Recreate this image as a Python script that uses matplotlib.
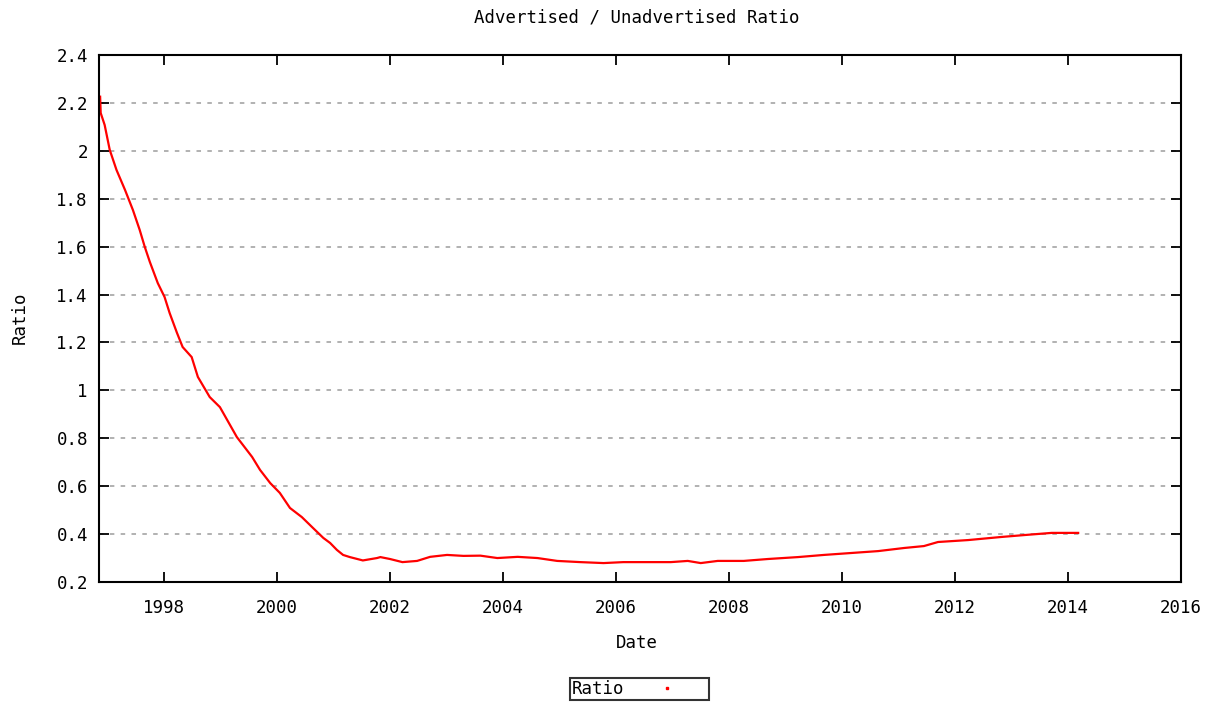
import matplotlib
matplotlib.use("Agg")
import matplotlib.pyplot as plt
from matplotlib.lines import Line2D

# Data (decimal year, ratio)
years = [1996.87, 1996.88, 1996.95, 1997.04, 1997.16, 1997.31, 1997.45, 1997.57,
         1997.66, 1997.75, 1997.89, 1998.01, 1998.10, 1998.23, 1998.33, 1998.49,
         1998.60, 1998.81, 1998.99, 1999.29, 1999.56, 1999.70, 1999.88, 2000.05,
         2000.23, 2000.44, 2000.64, 2000.82, 2000.94, 2001.06, 2001.17, 2001.29,
         2001.52, 2001.77, 2001.83, 2002.00, 2002.22, 2002.48, 2002.71, 2003.01,
         2003.30, 2003.60, 2003.90, 2004.26, 2004.61, 2004.96, 2005.37, 2005.78,
         2006.13, 2006.56, 2006.97, 2007.27, 2007.50, 2007.80, 2008.26, 2008.69,
         2009.22, 2009.68, 2010.16, 2010.64, 2011.10, 2011.45, 2011.70, 2012.23,
         2012.82, 2013.23, 2013.71, 2014.18]
ratio = [2.226, 2.158, 2.108, 2.004, 1.920, 1.837, 1.753, 1.670,
         1.599, 1.536, 1.448, 1.390, 1.323, 1.240, 1.181, 1.139,
         1.056, 0.972, 0.930, 0.805, 0.722, 0.668, 0.613, 0.572,
         0.509, 0.471, 0.425, 0.384, 0.363, 0.334, 0.313, 0.304,
         0.290, 0.300, 0.304, 0.296, 0.283, 0.288, 0.305, 0.313,
         0.309, 0.310, 0.300, 0.305, 0.300, 0.288, 0.283, 0.279,
         0.283, 0.283, 0.283, 0.288, 0.279, 0.288, 0.288, 0.296,
         0.304, 0.313, 0.321, 0.329, 0.342, 0.350, 0.367, 0.375,
         0.388, 0.396, 0.405, 0.405]

xticks = [1998, 2000, 2002, 2004, 2006, 2008, 2010, 2012, 2014, 2016]
yticks = [0.2, 0.4, 0.6, 0.8, 1.0, 1.2, 1.4, 1.6, 1.8, 2.0, 2.2, 2.4]
ytick_labels = ["0.2", "0.4", "0.6", "0.8", "1", "1.2", "1.4", "1.6", "1.8", "2", "2.2", "2.4"]

FONT = "DejaVu Sans Mono"
FS = 12.5

fig = plt.figure(figsize=(12.18, 7.02), dpi=100)
ax = fig.add_axes([99/1218, 1 - 582/702, (1181 - 99)/1218, (582 - 55)/702])

ax.plot(years, ratio, color="red", linewidth=1.6, solid_joinstyle="miter")

ax.set_xlim(1996.85, 2016)
ax.set_ylim(0.2, 2.4)
ax.set_xticks(xticks)
ax.set_xticklabels([str(t) for t in xticks], fontfamily=FONT, fontsize=FS)
ax.set_yticks(yticks)
ax.set_yticklabels(ytick_labels, fontfamily=FONT, fontsize=FS)

ax.tick_params(direction="in", length=7, width=1.3, top=True, right=True,
               pad=8, colors="black")
ax.tick_params(axis="x", pad=12)
for s in ax.spines.values():
    s.set_linewidth(1.5)
    s.set_color("black")

ax.yaxis.grid(True, color="#ababab", linestyle=(0, (2.5, 3.5)), linewidth=1.3)
ax.set_axisbelow(True)

fig.text(637/1218, 1 - 18/702, "Advertised / Unadvertised Ratio", ha="center",
         va="center", fontfamily=FONT, fontsize=FS)
fig.text(637/1218, 1 - 643/702, "Date", ha="center", va="center",
         fontfamily=FONT, fontsize=FS)
fig.text(20/1218, 1 - 318/702, "Ratio", ha="center", va="center",
         rotation=90, fontfamily=FONT, fontsize=FS)

handle = Line2D([], [], color="red", marker="s", markersize=1.5, linestyle="none")
leg = fig.legend([handle], ["Ratio"], loc="center",
                 bbox_to_anchor=(639.5/1218, 1 - 689/702),
                 markerfirst=False, frameon=True, fancybox=False,
                 prop={"family": FONT, "size": FS}, handlelength=4.6,
                 borderpad=0.1, handletextpad=0.2, borderaxespad=0)
leg.get_frame().set_edgecolor("black")
leg.get_frame().set_linewidth(1.5)

fig.savefig("out.png", dpi=100)
